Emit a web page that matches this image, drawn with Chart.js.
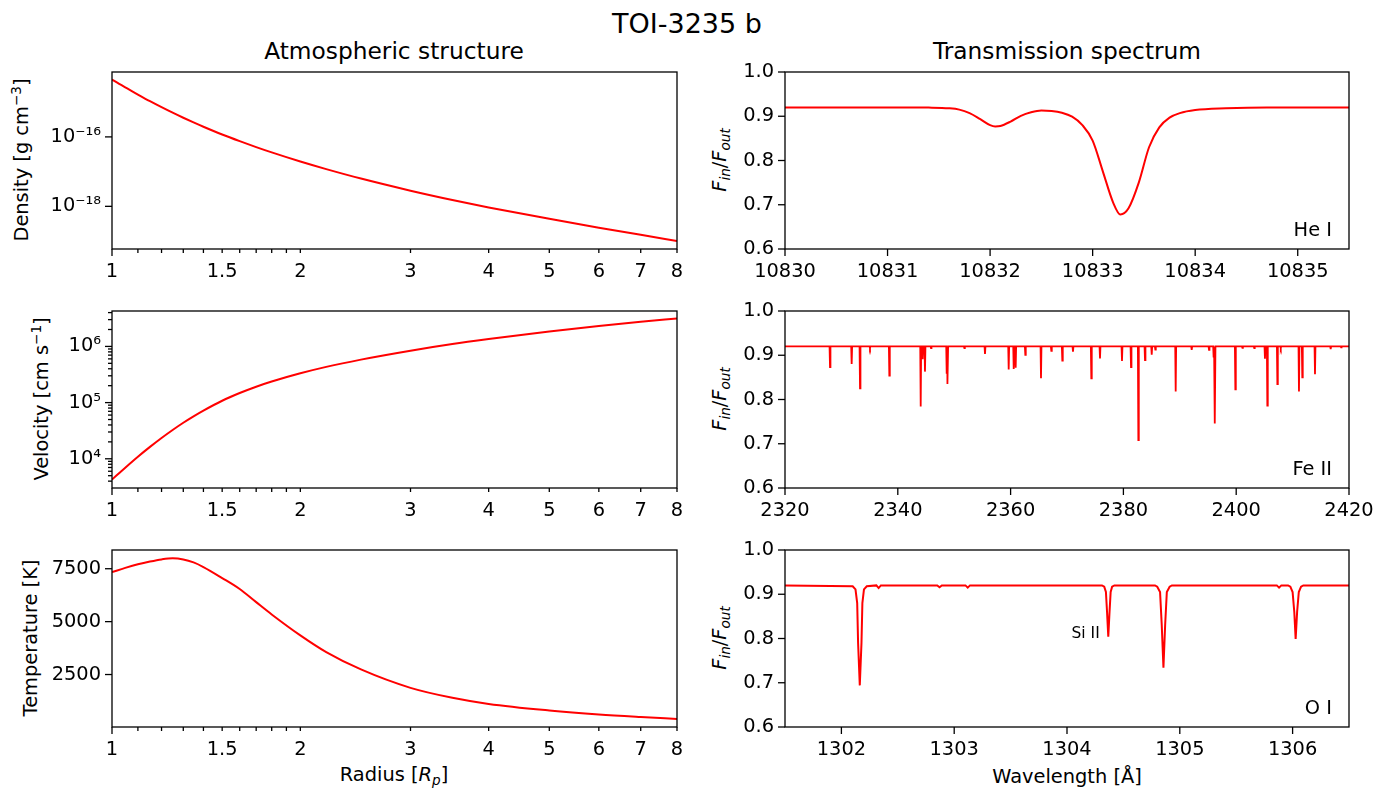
<!DOCTYPE html>
<html>
<head>
<meta charset="utf-8">
<script src="https://cdn.jsdelivr.net/npm/chart.js@4.4.1/dist/chart.umd.min.js"></script>
<style>
  html, body { margin: 0; padding: 0; background: #fff; }
  #fig { position: relative; width: 1389px; height: 789px; overflow: hidden;
         font-family: "DejaVu Sans", sans-serif; color: #000; }
  #fig canvas { position: absolute; }
  .lbl { position: absolute; white-space: nowrap; line-height: 1; transform: translate(-50%, -50%); }
  .rot { transform: translate(-50%, -50%) rotate(-90deg); }
  .sup { font-size: 70%; position: relative; top: -0.5em; }
  .sub { font-size: 70%; position: relative; top: 0.3em; }
</style>
</head>
<body>
<div id="fig">
  <div class="lbl" style="left:687px;top:23px;font-size:27px">TOI-3235 b</div>
  <div class="lbl" style="left:394px;top:51px;font-size:23.3px">Atmospheric structure</div>
  <div class="lbl" style="left:1067px;top:51px;font-size:23.3px">Transmission spectrum</div>

  <div class="lbl rot" style="left:22px;top:160px;font-size:19.4px">Density [g cm<span class="sup">−3</span>]</div>
  <div class="lbl rot" style="left:42px;top:399px;font-size:19.4px">Velocity [cm s<span class="sup">−1</span>]</div>
  <div class="lbl rot" style="left:31px;top:638px;font-size:19.4px">Temperature [K]</div>
  <div class="lbl" style="left:394px;top:775px;font-size:19.4px">Radius [<i>R</i><span class="sub"><i>p</i></span>]</div>

  <div class="lbl rot" style="left:720px;top:160px;font-size:19.4px"><i>F</i><span class="sub"><i>in</i></span>/<i>F</i><span class="sub"><i>out</i></span></div>
  <div class="lbl rot" style="left:720px;top:399px;font-size:19.4px"><i>F</i><span class="sub"><i>in</i></span>/<i>F</i><span class="sub"><i>out</i></span></div>
  <div class="lbl rot" style="left:720px;top:638px;font-size:19.4px"><i>F</i><span class="sub"><i>in</i></span>/<i>F</i><span class="sub"><i>out</i></span></div>
  <div class="lbl" style="left:1067px;top:777px;font-size:19.4px">Wavelength [Å]</div>
</div>
<script>
/* ---------- data ---------- */
var radius      = [1, 1.05, 1.1, 1.15, 1.2, 1.25, 1.3, 1.35, 1.4, 1.5, 1.6, 1.7, 1.8, 2, 2.2, 2.5, 3, 3.5, 4, 5, 6, 7, 8];
var density     = [4.47e-15, 2.66e-15, 1.66e-15, 1.07e-15, 7.18e-16, 4.98e-16, 3.56e-16, 2.61e-16, 1.96e-16, 1.17e-16, 7.53e-17,
                   5.08e-17, 3.57e-17, 1.95e-17, 1.18e-17, 6.30e-18, 2.82e-18, 1.52e-18, 9.29e-19, 4.36e-19, 2.43e-19, 1.51e-19, 1.01e-19];
var velocity    = [4.27e3, 6.95e3, 1.09e4, 1.63e4, 2.35e4, 3.26e4, 4.38e4, 5.70e4, 7.21e4, 1.08e5, 1.48e5,
                   1.92e5, 2.37e5, 3.32e5, 4.32e5, 5.82e5, 8.38e5, 1.10e6, 1.35e6, 1.85e6, 2.32e6, 2.75e6, 3.13e6];
var temperature = [7340, 7540, 7710, 7840, 7940, 7990, 7940, 7800, 7580, 7060, 6540,
                   5920, 5340, 4350, 3560, 2740, 1870, 1400, 1110, 800, 610, 490, 400];

var radiusTicks  = [1, 1.1, 1.2, 1.3, 1.4, 1.5, 1.6, 1.7, 1.8, 1.9, 2, 3, 4, 5, 6, 7, 8];
var radiusLabels = [1, 1.5, 2, 3, 4, 5, 6, 7, 8];
var densityTicks = [1e-18, 1e-16];
var velocityMajor = [1e4, 1e5, 1e6];
var velocityMinor = [4e3, 5e3, 6e3, 7e3, 8e3, 9e3, 2e4, 3e4, 4e4, 5e4, 6e4, 7e4, 8e4, 9e4,
                     2e5, 3e5, 4e5, 5e5, 6e5, 7e5, 8e5, 9e5, 2e6, 3e6, 4e6];
var tempTicks = [2500, 5000, 7500];

var heWave = [10830, 10831, 10831.4, 10831.6, 10831.7, 10831.8, 10831.9, 10832, 10832.05, 10832.1, 10832.2,
              10832.3, 10832.4, 10832.5, 10832.6, 10832.7, 10832.8, 10832.9, 10833, 10833.1, 10833.2, 10833.27,
              10833.35, 10833.45, 10833.55, 10833.65, 10833.75, 10833.85, 10834, 10834.3, 10834.7, 10835.5];
var heFlux = [0.920, 0.920, 0.9195, 0.918, 0.915, 0.907, 0.894, 0.880, 0.877, 0.878, 0.888,
              0.901, 0.909, 0.913, 0.912, 0.908, 0.899, 0.880, 0.845, 0.775, 0.705, 0.678,
              0.692, 0.750, 0.830, 0.875, 0.897, 0.907, 0.914, 0.918, 0.920, 0.920];
var heTicks = [10830, 10831, 10832, 10833, 10834, 10835];

var feContinuum = 0.92;
var feLineWave = [2327.98, 2331.82, 2333.30, 2335.07, 2338.50, 2344.06, 2344.41, 2344.82, 2345.89, 2348.67, 2348.84,
                  2351.80, 2355.46, 2359.66, 2360.55, 2360.90, 2362.61, 2365.39, 2367.22, 2369.17, 2371.06, 2374.31,
                  2375.85, 2379.75, 2381.35, 2382.65, 2383.83, 2385.02, 2385.66, 2389.27, 2392.11, 2395.18, 2396.00,
                  2396.24, 2399.85, 2401.10, 2403.20, 2405.10, 2405.52, 2407.30, 2407.90, 2411.13, 2411.72, 2413.97,
                  2416.75, 2418.60];
var feLineFlux = [0.873, 0.880, 0.825, 0.916, 0.854, 0.784, 0.891, 0.863, 0.916, 0.858, 0.835,
                  0.916, 0.903, 0.868, 0.869, 0.872, 0.901, 0.848, 0.910, 0.888, 0.908, 0.848,
                  0.893, 0.887, 0.873, 0.708, 0.889, 0.901, 0.913, 0.818, 0.912, 0.912, 0.895,
                  0.746, 0.823, 0.917, 0.916, 0.892, 0.786, 0.835, 0.916, 0.818, 0.850, 0.857,
                  0.914, 0.918];
var feTicks = [2320, 2340, 2360, 2380, 2400, 2420];

var oiWave = [1301.5, 1302.10, 1302.125, 1302.14, 1302.148, 1302.163, 1302.178, 1302.186, 1302.20, 1302.225, 1302.31,
              1302.33, 1302.35, 1302.85, 1302.87, 1302.89, 1303.10, 1303.12, 1303.14,
              1304.31, 1304.33, 1304.345, 1304.355, 1304.366, 1304.377, 1304.387, 1304.40, 1304.42,
              1304.78, 1304.80, 1304.825, 1304.84, 1304.855, 1304.87, 1304.885, 1304.91, 1304.93,
              1305.86, 1305.88, 1305.90, 1305.96, 1305.98, 1306.00, 1306.015, 1306.027, 1306.04, 1306.055,
              1306.075, 1306.095, 1306.5];
var oiFlux = [0.920, 0.918, 0.911, 0.880, 0.790, 0.694, 0.790, 0.880, 0.911, 0.918, 0.920,
              0.914, 0.920, 0.920, 0.916, 0.920, 0.920, 0.915, 0.920,
              0.920, 0.917, 0.905, 0.860, 0.804, 0.860, 0.905, 0.917, 0.920,
              0.920, 0.917, 0.905, 0.830, 0.734, 0.830, 0.905, 0.917, 0.920,
              0.920, 0.915, 0.920, 0.920, 0.917, 0.905, 0.860, 0.799, 0.860, 0.905,
              0.917, 0.920, 0.920];
var oiTicks = [1302, 1303, 1304, 1305, 1306];
var fluxTicks = [0.6, 0.7, 0.8, 0.9, 1.0];

/* ---------- helpers ---------- */
var FONT = { family: "DejaVu Sans", size: 19.4 };
var SUP = { "-": "⁻", "0": "⁰", "1": "¹", "2": "²", "3": "³", "4": "⁴", "5": "⁵", "6": "⁶", "7": "⁷", "8": "⁸", "9": "⁹" };
function pow10(v) {
  var e = String(Math.round(Math.log10(v)));
  return "10" + e.split("").map(function (c) { return SUP[c]; }).join("");
}
function pts(xs, ys) {
  return xs.map(function (x, i) { return { x: x, y: ys[i] }; });
}
function spikes(centres, mins, base, x0, x1) {
  var out = [{ x: x0, y: base }];
  centres.forEach(function (c, i) {
    out.push({ x: c - 0.08, y: base }, { x: c, y: mins[i] }, { x: c + 0.08, y: base });
  });
  out.push({ x: x1, y: base });
  return out;
}

// matplotlib-style frame, outward ticks, corner note
var mplFrame = {
  id: "mplFrame",
  afterDraw: function (chart, args, opts) {
    var ctx = chart.ctx, a = chart.chartArea;
    ctx.save();
    ctx.strokeStyle = "#000";
    ctx.lineWidth = 1.3;
    ctx.strokeRect(a.left, a.top, a.right - a.left, a.bottom - a.top);
    ["x", "y"].forEach(function (id) {
      var s = chart.scales[id];
      s.ticks.forEach(function (t) {
        var p = s.getPixelForValue(t.value);
        var len = t.major ? 7 : 4;
        ctx.beginPath();
        if (id === "x") { ctx.moveTo(p, a.bottom); ctx.lineTo(p, a.bottom + len); }
        else { ctx.moveTo(a.left, p); ctx.lineTo(a.left - len, p); }
        ctx.stroke();
      });
    });
    ctx.fillStyle = "#000";
    if (opts.note) {
      ctx.font = "19.4px 'DejaVu Sans'";
      ctx.textAlign = "right";
      ctx.textBaseline = "middle";
      ctx.fillText(opts.note, a.right - 17, a.bottom - 18);
    }
    if (opts.tag) {
      ctx.font = "15.5px 'DejaVu Sans'";
      ctx.textAlign = "right";
      ctx.textBaseline = "middle";
      ctx.fillText(opts.tag.text, chart.scales.x.getPixelForValue(opts.tag.x), chart.scales.y.getPixelForValue(opts.tag.y));
    }
    ctx.restore();
  }
};

var COLS = [{ l: 112, r: 677, cx: 0 }, { l: 785, r: 1349, cx: 700 }];
var ROWS = [72, 311, 550];
var PH = 177, PADT = 28, PADR = 38, AXH = 45;

function panel(o) {
  var col = COLS[o.col], top = ROWS[o.row];
  var c = document.createElement("canvas");
  var w = col.r + PADR - col.cx, h = PH + PADT + AXH;
  c.width = w; c.height = h;
  c.style.left = col.cx + "px";
  c.style.top = (top - PADT) + "px";
  c.style.width = w + "px"; c.style.height = h + "px";
  document.getElementById("fig").appendChild(c);

  function axis(type, min, max, ticks, label) {
    return {
      type: type, min: min, max: max,
      grid: { display: false, drawTicks: false },
      border: { display: false },
      ticks: { autoSkip: false, maxRotation: 0, padding: 11, color: "#000", font: FONT,
               callback: function (v) { return label(v); } },
      afterBuildTicks: function (s) { s.ticks = ticks.map(function (t) { return { value: t.v, major: t.m }; }); }
    };
  }
  var xs = axis(o.xType, o.xMin, o.xMax, o.xTicks, o.xLabel);
  xs.afterFit = function (s) { s.height = AXH; };
  var ys = axis(o.yType, o.yMin, o.yMax, o.yTicks, o.yLabel);
  ys.afterFit = function (s) { s.width = col.l - col.cx; };

  return new Chart(c, {
    type: "line",
    data: { datasets: [{
      data: o.data, borderColor: "#ff0000", borderWidth: o.lw || 2, pointRadius: 0, fill: false,
      cubicInterpolationMode: o.smooth ? "monotone" : "default", tension: 0
    }] },
    options: {
      responsive: false, animation: false, events: [], devicePixelRatio: 1,
      layout: { padding: { top: PADT, right: PADR, left: 0, bottom: 0 } },
      plugins: { legend: { display: false }, tooltip: { enabled: false },
                 mplFrame: { note: o.note, tag: o.tag } },
      scales: { x: xs, y: ys }
    },
    plugins: [mplFrame]
  });
}

function major(list) { return list.map(function (v) { return { v: v, m: true }; }); }
var rTicks = radiusTicks.map(function (v) { return { v: v, m: v === 1 }; });
function rLabel(v) { return radiusLabels.indexOf(v) >= 0 ? String(v) : ""; }
var vTicks = velocityMinor.map(function (v) { return { v: v, m: false }; }).concat(major(velocityMajor));
function fLabel(v) { return v.toFixed(1); }

panel({ col: 0, row: 0, data: pts(radius, density), smooth: true,
        xType: "logarithmic", xMin: 1, xMax: 8, xTicks: rTicks, xLabel: rLabel,
        yType: "logarithmic", yMin: 5.9e-20, yMax: 7.4e-15, yTicks: major(densityTicks), yLabel: pow10 });
panel({ col: 0, row: 1, data: pts(radius, velocity), smooth: true,
        xType: "logarithmic", xMin: 1, xMax: 8, xTicks: rTicks, xLabel: rLabel,
        yType: "logarithmic", yMin: 3020, yMax: 4.27e6, yTicks: vTicks,
        yLabel: function (v) { return velocityMajor.indexOf(v) >= 0 ? pow10(v) : ""; } });
panel({ col: 0, row: 2, data: pts(radius, temperature), smooth: true,
        xType: "logarithmic", xMin: 1, xMax: 8, xTicks: rTicks, xLabel: rLabel,
        yType: "linear", yMin: 20, yMax: 8385, yTicks: major(tempTicks), yLabel: function (v) { return String(v); } });

panel({ col: 1, row: 0, data: pts(heWave, heFlux), smooth: true, note: "He I",
        xType: "linear", xMin: 10830, xMax: 10835.5, xTicks: major(heTicks), xLabel: function (v) { return String(v); },
        yType: "linear", yMin: 0.6, yMax: 1.0, yTicks: major(fluxTicks), yLabel: fLabel });
panel({ col: 1, row: 1, data: spikes(feLineWave, feLineFlux, feContinuum, 2320, 2420), lw: 1.8, note: "Fe II",
        xType: "linear", xMin: 2320, xMax: 2420, xTicks: major(feTicks), xLabel: function (v) { return String(v); },
        yType: "linear", yMin: 0.6, yMax: 1.0, yTicks: major(fluxTicks), yLabel: fLabel });
panel({ col: 1, row: 2, data: pts(oiWave, oiFlux), lw: 2, note: "O I", tag: { text: "Si II", x: 1304.29, y: 0.81 },
        xType: "linear", xMin: 1301.5, xMax: 1306.5, xTicks: major(oiTicks), xLabel: function (v) { return String(v); },
        yType: "linear", yMin: 0.6, yMax: 1.0, yTicks: major(fluxTicks), yLabel: fLabel });
</script>
</body>
</html>
